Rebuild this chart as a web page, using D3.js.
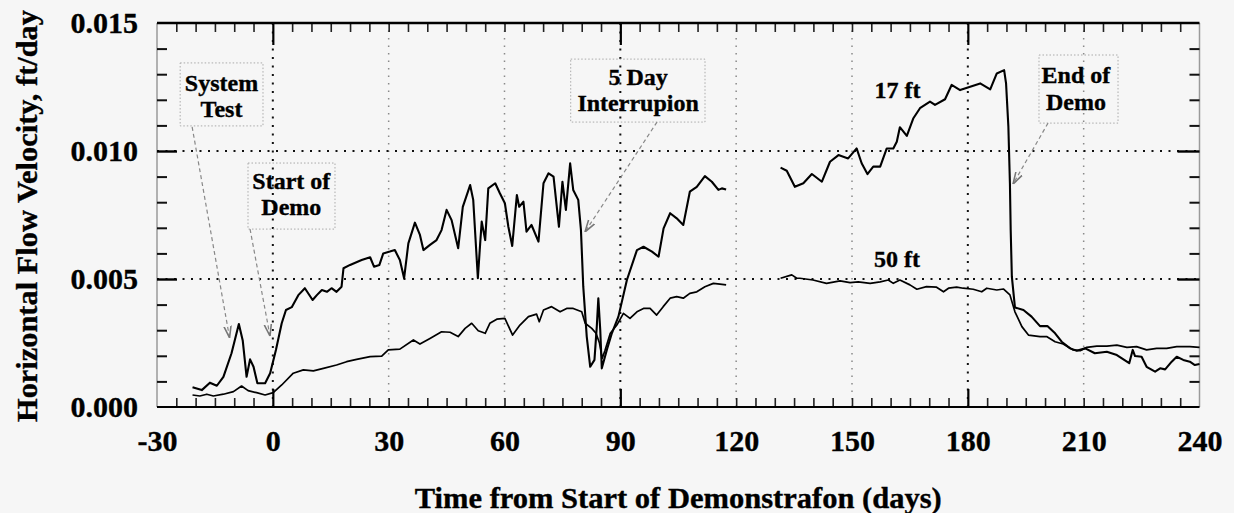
<!DOCTYPE html>
<html><head><meta charset="utf-8">
<script src="https://cdn.jsdelivr.net/npm/d3@7"></script>
<style>
html,body{margin:0;padding:0;background:#f6f6f6;}
svg{display:block;}
text{font-family:"Liberation Serif","Times New Roman",serif;font-weight:bold;fill:#000;stroke:#000;stroke-width:0.35px;}
</style></head><body>
<svg id="chart" width="1234" height="513"></svg>
<script>
// ---- data ----
const xTicks = [-30, 0, 30, 60, 90, 120, 150, 180, 210, 240];
const yTicks = [0, 0.005, 0.010, 0.015];
const xTitle = "Time from Start of Demonstrafon (days)";
const yTitle = "Horizontal Flow Velocity, ft/day";

// 17 ft series (null = data gap)
const days17 = [-20.8,-18.4,-16.3,-14.5,-12.8,-10.7,-8.8,-7.8,-6.8,-5.9,-5.0,-4.0,-2.0,-0.7,0.8,2.3,3.4,4.9,6.6,8.3,10.3,11.4,12.7,14.0,15.2,16.5,17.8,18.3,20.0,23.0,25.2,26.2,27.6,28.6,30.3,31.6,32.9,34.0,35.1,36.8,38.1,39.0,40.7,42.4,43.7,45.0,46.3,48.0,49.2,51.1,51.9,53.1,53.7,54.1,55.0,55.8,57.6,58.8,60.1,61.0,62.0,63.2,63.8,64.9,65.7,67.0,68.8,70.1,71.4,72.7,74.1,75.0,75.9,77.0,77.8,79.1,79.8,80.4,81.3,82.2,83.3,83.9,84.3,84.8,85.2,86.5,87.8,89.5,91.7,94.3,96.0,98.2,99.9,101.2,102.9,104.6,106.3,108.0,109.8,111.9,113.7,115.4,116.3,117.4,
  124,
  131.5,133.1,135.2,137.4,139.6,142.2,144.3,146.5,149.0,151.2,152.5,154.0,155.5,157.3,159.0,160.7,161.6,162.4,164.2,165.9,167.6,170.2,171.5,174.1,175.8,178.0,180.6,183.2,185.8,187.5,189.4,189.9,190.5,190.9,191.1,191.4,192.2,194.4,196.5,198.7,200.6,202.6,204.3,206.5,208.2,210.4,212.9,216.0,218.6,221.2,221.8,222.7,223.3,225.0,226.3,228.5,229.8,231.1,232.8,234.1,235.8,237.5,238.8,240.0];
const vel17 = [0.00077,0.00066,0.00095,0.00083,0.00118,0.0021,0.00324,0.0026,0.00118,0.00186,0.00157,0.00093,0.00093,0.00132,0.00223,0.00327,0.00379,0.0039,0.00437,0.00464,0.00418,0.00437,0.00457,0.0045,0.00464,0.0045,0.0047,0.00542,0.00555,0.00574,0.00585,0.00548,0.00555,0.006,0.00607,0.00613,0.00574,0.00503,0.00639,0.0072,0.00672,0.00613,0.00633,0.00652,0.00691,0.0077,0.0073,0.0062,0.00782,0.00867,0.00809,0.00503,0.00639,0.00724,0.00652,0.00854,0.00874,0.00835,0.00796,0.00704,0.00629,0.00828,0.00782,0.00802,0.00685,0.00711,0.00646,0.00874,0.00913,0.009,0.00704,0.0088,0.0077,0.00952,0.00848,0.00809,0.00691,0.0047,0.00275,0.00157,0.00184,0.00314,0.00425,0.00301,0.00151,0.00223,0.00288,0.00353,0.00496,0.00613,0.00626,0.00607,0.00587,0.00698,0.00757,0.00737,0.00711,0.00841,0.0086,0.00902,0.0088,0.00848,0.00854,0.0085,
  null,
  0.00935,0.00923,0.0086,0.00874,0.0091,0.0088,0.00958,0.00984,0.00971,0.0101,0.00952,0.0091,0.00939,0.00939,0.0101,0.0101,0.01036,0.01093,0.01059,0.01128,0.01167,0.01193,0.0118,0.01202,0.01258,0.01238,0.01251,0.01264,0.01241,0.01303,0.01316,0.01264,0.01095,0.00874,0.00691,0.00509,0.00389,0.00379,0.00353,0.00316,0.00316,0.00288,0.00255,0.00229,0.0022,0.00229,0.0021,0.00216,0.00203,0.00177,0.00171,0.00223,0.00199,0.00196,0.00157,0.00138,0.00151,0.00147,0.00177,0.00196,0.00184,0.00177,0.00164,0.00168];

// 50 ft series (null = data gap)
const days50 = [-20.8,-18.9,-17.1,-15.4,-12.8,-10.2,-8.1,-6.4,-4.2,-2.0,0.1,2.3,5.3,7.9,10.5,13.1,16.5,19.1,21.7,25.2,28.2,29.9,32.9,36.4,38.1,40.7,43.7,45.9,48.0,49.8,51.5,53.2,55.0,56.2,58.0,60.1,62.1,64.0,66.2,68.3,69.0,70.1,72.2,74.4,76.1,77.8,80.0,80.9,82.6,83.7,84.6,85.3,86.0,87.4,89.1,90.8,92.5,94.3,96.0,97.7,99.4,101.1,102.9,104.6,106.3,108.0,109.8,111.9,114.1,115.8,117.4,
  124,
  131.5,134.4,135.7,136.5,139.9,143.4,146.9,149.5,151.6,154.7,157.3,159.4,160.7,162.4,165.0,166.8,169.3,171.9,173.7,175.0,177.1,178.8,181.4,183.6,184.9,187.5,189.2,190.9,192.2,194.0,195.7,198.7,200.4,202.6,204.7,207.3,209.1,210.8,213.4,216.0,218.6,221.2,223.7,226.3,228.9,231.5,234.1,237.5,240.0];
const vel50 = [0.00047,0.00043,0.0005,0.00043,0.0005,0.0006,0.00082,0.00064,0.00056,0.00047,0.00056,0.00086,0.00132,0.00145,0.00141,0.00151,0.00164,0.00177,0.00186,0.00197,0.00199,0.00223,0.00226,0.00262,0.00246,0.00268,0.00294,0.00292,0.00275,0.00307,0.00327,0.00298,0.00288,0.00327,0.00343,0.00346,0.00281,0.0032,0.00353,0.00363,0.00333,0.00379,0.00392,0.00372,0.00385,0.00385,0.00372,0.00327,0.00307,0.00288,0.0025,0.0019,0.0022,0.00288,0.0032,0.00366,0.00346,0.00372,0.00385,0.00385,0.00359,0.00392,0.00425,0.00431,0.00425,0.00444,0.0045,0.0047,0.00483,0.0048,0.00477,
  null,
  0.00503,0.00516,0.00503,0.00503,0.00496,0.00483,0.00493,0.00486,0.00489,0.00483,0.00489,0.00496,0.00483,0.00496,0.00477,0.0046,0.0047,0.00468,0.0045,0.00464,0.00468,0.00464,0.0046,0.0045,0.00464,0.00457,0.00461,0.00438,0.00372,0.00314,0.00281,0.00275,0.00275,0.00255,0.00246,0.00223,0.0022,0.00233,0.00238,0.00238,0.00242,0.00233,0.00236,0.00223,0.00229,0.00229,0.00236,0.00236,0.00233];

// annotation texts and their anchor points (data units)
const noteLines  = [["System", "Test"], ["Start of", "Demo"], ["5 Day", "Interrupion"], ["End of", "Demo"]];
const noteCenter = [[-13.3, 0.01236], [4.8, 0.00852], [94.6, 0.01258], [208.0, 0.01265]];
const noteBox    = [[-24.0, 0.01344, -2.55, 0.01098], [-6.43, 0.00953, 16.1, 0.00695], [77.15, 0.01359, 111.93, 0.01113], [198.43, 0.01375, 218.9, 0.01109]];
const noteArrow  = [[-20.9, 0.01094, -11.2, 0.0027], [-5.9, 0.00695, -0.73, 0.00277], [99.5, 0.01113, 80.85, 0.00684], [200.77, 0.01109, 191.7, 0.00871]];
const seriesLabels = ["17 ft", "50 ft"];
const seriesLabelPos = [[161.8, 0.01206], [161.65, 0.00548]];

// ---- drawing ----
const svg = d3.select("#chart");
const W = 1234, H = 513;
svg.append("rect").attr("width", W).attr("height", H).attr("fill", "#f6f6f6");

const x = d3.scaleLinear().domain([-30, 240]).range([157, 1199.5]);
const y = d3.scaleLinear().domain([0, 0.015]).range([407, 23]);
const [x0, x1] = x.range();
const [y0, y1] = y.range();

const defs = svg.append("defs");
defs.append("marker").attr("id", "arr").attr("viewBox", "0 0 10 10")
  .attr("refX", 10).attr("refY", 5).attr("markerWidth", 12).attr("markerHeight", 12)
  .attr("markerUnits", "userSpaceOnUse").attr("orient", "auto")
  .append("path").attr("d", "M0,2 L10,5 L0,8").attr("fill", "none")
  .attr("stroke", "#777").attr("stroke-width", 1.3);

// frame sides (light)
svg.append("line").attr("x1", x0).attr("x2", x0).attr("y1", y1).attr("y2", y0)
  .attr("stroke", "#9a9a9a").attr("stroke-width", 1.5);
svg.append("line").attr("x1", x1).attr("x2", x1).attr("y1", y1).attr("y2", y0)
  .attr("stroke", "#9a9a9a").attr("stroke-width", 1.5);

// grid
const g = svg.append("g");
xTicks.filter(d => d > -30 && d < 240).forEach(d => {
  const heavy = d % 90 === 0;
  g.append("line").attr("x1", x(d)).attr("x2", x(d)).attr("y1", y1).attr("y2", y0)
    .attr("stroke", heavy ? "#111" : "#8a8a8a")
    .attr("stroke-width", heavy ? 2 : 1.5)
    .attr("stroke-dasharray", heavy ? "2,6.5" : "1.5,6");
});
yTicks.filter(d => d > 0 && d < 0.015).forEach(d => {
  g.append("line").attr("x1", x0).attr("x2", x1).attr("y1", y(d)).attr("y2", y(d))
    .attr("stroke", "#111").attr("stroke-width", 2).attr("stroke-dasharray", "2,6.5");
});

// axes helpers
function styleAxis(sel, color, width) {
  sel.select(".domain").remove();
  sel.selectAll(".tick line").attr("stroke", color).attr("stroke-width", width);
}
const minorX = d3.range(-25, 240, 5).filter(d => d % 90 !== 0);
const majorX = [0, 90, 180];
const minorY = d3.range(1, 15).map(i => i / 1000).filter(d => Math.abs(d - 0.005) > 1e-9 && Math.abs(d - 0.01) > 1e-9);
const majorY = [0.005, 0.010];

// bottom
svg.append("g").attr("transform", `translate(0,${y0})`)
  .call(d3.axisBottom(x).tickValues(minorX).tickSize(-9).tickFormat(""))
  .call(s => styleAxis(s, "#222", 1.6));
svg.append("g").attr("transform", `translate(0,${y0})`)
  .call(d3.axisBottom(x).tickValues(majorX).tickSize(-18).tickFormat(""))
  .call(s => styleAxis(s, "#000", 2.2));
// top
svg.append("g").attr("transform", `translate(0,${y1})`)
  .call(d3.axisTop(x).tickValues(minorX).tickSize(-9).tickFormat(""))
  .call(s => styleAxis(s, "#222", 1.6));
svg.append("g").attr("transform", `translate(0,${y1})`)
  .call(d3.axisTop(x).tickValues(majorX).tickSize(-22).tickFormat(""))
  .call(s => styleAxis(s, "#000", 2.2));
// left
svg.append("g").attr("transform", `translate(${x0},0)`)
  .call(d3.axisLeft(y).tickValues(minorY).tickSize(-10).tickFormat(""))
  .call(s => styleAxis(s, "#111", 2));
svg.append("g").attr("transform", `translate(${x0},0)`)
  .call(d3.axisLeft(y).tickValues(majorY).tickSize(-20).tickFormat(""))
  .call(s => styleAxis(s, "#000", 2.4));
// right
svg.append("g").attr("transform", `translate(${x1},0)`)
  .call(d3.axisRight(y).tickValues(minorY).tickSize(-10).tickFormat(""))
  .call(s => styleAxis(s, "#111", 2));
svg.append("g").attr("transform", `translate(${x1},0)`)
  .call(d3.axisRight(y).tickValues(majorY).tickSize(-22).tickFormat(""))
  .call(s => styleAxis(s, "#000", 2.4));

// top and bottom solid borders
svg.append("line").attr("x1", x0).attr("x2", x1).attr("y1", y1).attr("y2", y1)
  .attr("stroke", "#000").attr("stroke-width", 2.5);
svg.append("line").attr("x1", x0).attr("x2", x1).attr("y1", y0).attr("y2", y0)
  .attr("stroke", "#000").attr("stroke-width", 2.2);

// tick labels
svg.append("g").attr("transform", `translate(0,${y0})`)
  .call(d3.axisBottom(x).tickValues(xTicks).tickSize(0).tickPadding(23).tickFormat(d => String(d)))
  .call(s => {
    s.select(".domain").remove();
    s.selectAll("text").attr("font-size", 30).attr("font-family", null).attr("fill", "#000");
  });
svg.append("g").attr("transform", `translate(${x0},0)`)
  .call(d3.axisLeft(y).tickValues(yTicks).tickSize(0).tickPadding(19).tickFormat(d3.format(".3f")))
  .call(s => {
    s.select(".domain").remove();
    s.selectAll("text").attr("font-size", 30).attr("font-family", null).attr("fill", "#000");
  });

// axis titles
svg.append("text").attr("x", (x0 + x1) / 2).attr("y", 508)
  .attr("text-anchor", "middle").attr("font-size", 29)
  .attr("textLength", 527).attr("lengthAdjust", "spacingAndGlyphs")
  .text(xTitle);
svg.append("text").attr("transform", `translate(37,${(y0 + y1) / 2 + 1}) rotate(-90)`)
  .attr("text-anchor", "middle").attr("font-size", 29)
  .attr("textLength", 412).attr("lengthAdjust", "spacingAndGlyphs")
  .text(yTitle);

// series
function series(days, vals, width) {
  const pts = days.map((d, i) => [d, vals[i]]);
  const line = d3.line().defined(p => p[1] !== null).x(p => x(p[0])).y(p => y(p[1]));
  svg.append("path").datum(pts).attr("d", line).attr("fill", "none")
    .attr("stroke", "#000").attr("stroke-width", width).attr("stroke-linejoin", "round");
}
series(days50, vel50, 1.7);
series(days17, vel17, 2.1);

// annotations
noteLines.forEach((lines, i) => {
  const b = noteBox[i];
  svg.append("rect").attr("x", x(b[0])).attr("y", y(b[1]))
    .attr("width", x(b[2]) - x(b[0])).attr("height", y(b[3]) - y(b[1]))
    .attr("fill", "none").attr("stroke", "#aaa").attr("stroke-width", 1)
    .attr("stroke-dasharray", "1.5,2");
  const a = noteArrow[i];
  svg.append("line").attr("x1", x(a[0])).attr("y1", y(a[1])).attr("x2", x(a[2])).attr("y2", y(a[3]))
    .attr("stroke", "#888").attr("stroke-width", 1.2).attr("stroke-dasharray", "4,3")
    .attr("marker-end", "url(#arr)");
  const c = noteCenter[i];
  const t = svg.append("text").attr("x", x(c[0])).attr("y", y(c[1]))
    .attr("text-anchor", "middle").attr("font-size", 24);
  lines.forEach((ln, k) => {
    t.append("tspan").attr("x", x(c[0])).attr("dy", k === 0 ? 0 : 26.5).text(ln);
  });
});
seriesLabels.forEach((s, i) => {
  svg.append("text").attr("x", x(seriesLabelPos[i][0])).attr("y", y(seriesLabelPos[i][1]))
    .attr("text-anchor", "middle").attr("font-size", 24).text(s);
});
</script>
</body></html>
